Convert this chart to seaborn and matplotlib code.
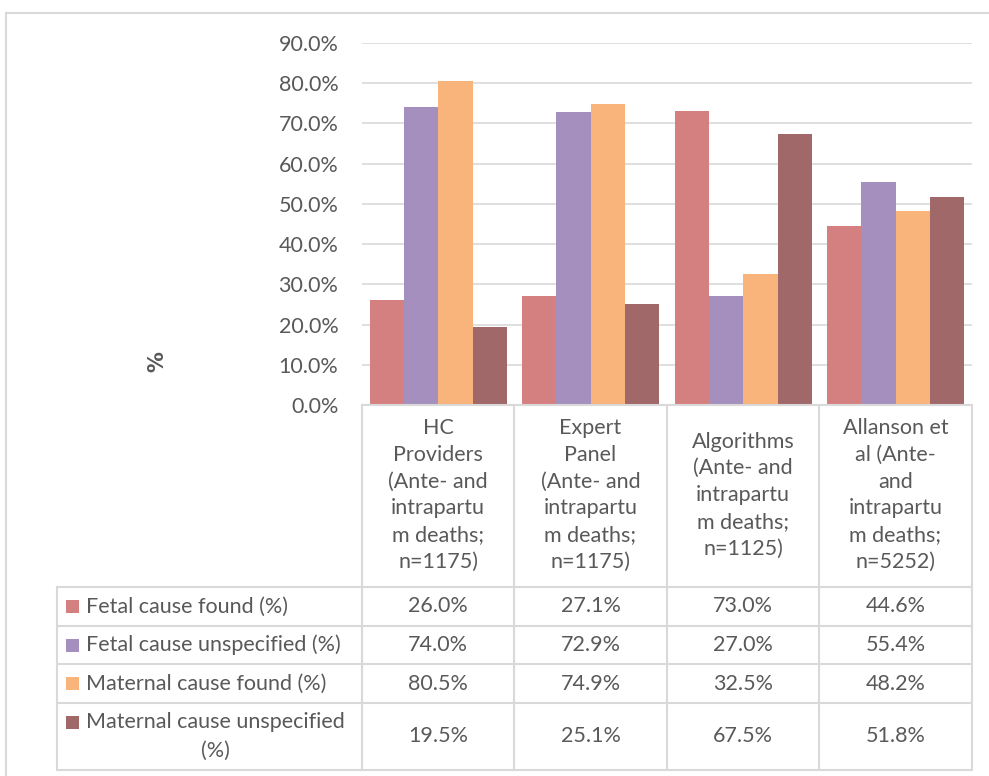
import numpy as np
import pandas as pd
import matplotlib
matplotlib.use("Agg")
import matplotlib.pyplot as plt
from matplotlib.patches import Rectangle
import seaborn as sns

# ---- data -------------------------------------------------------------
categories = [
    "HC\nProviders\n(Ante- and\nintrapartu\nm deaths;\nn=1175)",
    "Expert\nPanel\n(Ante- and\nintrapartu\nm deaths;\nn=1175)",
    "Algorithms\n(Ante- and\nintrapartu\nm deaths;\nn=1125)",
    "Allanson et\nal (Ante-\nand\nintrapartu\nm deaths;\nn=5252)",
]
series_names = [
    "Fetal cause found (%)",
    "Fetal cause unspecified (%)",
    "Maternal cause found (%)",
    "Maternal cause unspecified\n(%)",
]
fetal_found = [26.0, 27.1, 73.0, 44.6]
fetal_unspecified = [74.0, 72.9, 27.0, 55.4]
maternal_found = [80.5, 74.9, 32.5, 48.2]
maternal_unspecified = [19.5, 25.1, 67.5, 51.8]
series_colors = ["#D58080", "#A48FBE", "#F8B47A", "#A06868"]
y_ticks = [0, 10, 20, 30, 40, 50, 60, 70, 80, 90]

series_values = [fetal_found, fetal_unspecified, maternal_found, maternal_unspecified]
df = pd.DataFrame(
    [
        {"category": c, "series": s, "value": v}
        for s, vals in zip(series_names, series_values)
        for c, v in zip(categories, vals)
    ]
)

# ---- styling ----------------------------------------------------------
sns.set_theme(style="white")
plt.rcParams["font.family"] = ["Lato", "DejaVu Sans"]
TEXT = "#595959"
LINE = "#D9D9D9"
FS = 15.5

W, H = 989, 776
fig = plt.figure(figsize=(W / 100, H / 100), dpi=100)

# plot area in pixel coordinates
x0, x1 = 362, 972
y_top, y_bot = 43, 405
ax = fig.add_axes([x0 / W, 1 - y_bot / H, (x1 - x0) / W, (y_bot - y_top) / H])

sns.barplot(
    data=df, x="category", y="value", hue="series",
    order=categories, hue_order=series_names,
    palette=series_colors, saturation=1, width=0.9,
    linewidth=0, legend=False, ax=ax,
)
ax.set_xlim(-0.5, len(categories) - 0.5)
ax.set_ylim(0, 90)
ax.set_yticks(y_ticks)
ax.set_yticklabels([f"{t:.1f}%" for t in y_ticks], fontsize=FS, color=TEXT)
ax.tick_params(axis="y", length=0, pad=17)
ax.set_xticks([])
ax.set_xlabel("")
ax.set_ylabel("")
for sp in ax.spines.values():
    sp.set_visible(False)
for t in y_ticks[1:]:
    ax.axhline(t, color=LINE, lw=1.2, zorder=0)
ax.set_axisbelow(True)

# axis title
fig.text(157 / W, 1 - 362 / H, "%", rotation=90, ha="center", va="center",
         fontsize=15, fontweight="bold", color=TEXT, family="DejaVu Sans")

# ---- data table (pixel coordinates overlay) ---------------------------
tb = fig.add_axes([0, 0, 1, 1], zorder=3)
tb.set_xlim(0, W)
tb.set_ylim(H, 0)
tb.axis("off")
tb.patch.set_alpha(0)

col_edges = [362, 514, 667, 819, 972]
row_edges = [587, 626, 664, 703, 770]
left_edge = 57
lw = 1.5

# chart outer border
tb.plot([6, 6], [13, H], color=LINE, lw=1.5)
tb.plot([6, W], [13, 13], color=LINE, lw=1.5)

# horizontal lines
tb.plot([x0, x1], [y_bot, y_bot], color=LINE, lw=lw)
for y in row_edges:
    tb.plot([left_edge, x1], [y, y], color=LINE, lw=lw)
# vertical lines
for x in col_edges:
    tb.plot([x, x], [y_bot, row_edges[-1]], color=LINE, lw=lw)
tb.plot([left_edge, left_edge], [row_edges[0], row_edges[-1]], color=LINE, lw=lw)

# category header cells
for i, cat in enumerate(categories):
    cx = (col_edges[i] + col_edges[i + 1]) / 2
    tb.text(cx, 495, cat, ha="center", va="center",
            fontsize=FS, color=TEXT, linespacing=1.42, multialignment="center")

# series rows: legend key, name, values
for r, (name, vals, col) in enumerate(zip(series_names, series_values, series_colors)):
    ya, yb = row_edges[r], row_edges[r + 1]
    yc = (ya + yb) / 2
    first_line_y = yc if "\n" not in name else ya + 19
    tb.add_patch(Rectangle((66, first_line_y - 6.5), 13, 13, facecolor=col, edgecolor="none"))
    tb.text(86, yc, name, ha="left", va="center", fontsize=FS, color=TEXT,
            linespacing=1.5, multialignment="center")
    for i, v in enumerate(vals):
        cx = (col_edges[i] + col_edges[i + 1]) / 2
        tb.text(cx, yc, f"{v:.1f}%", ha="center", va="center", fontsize=FS, color=TEXT)

fig.savefig("out.png", dpi=100, facecolor="white")
